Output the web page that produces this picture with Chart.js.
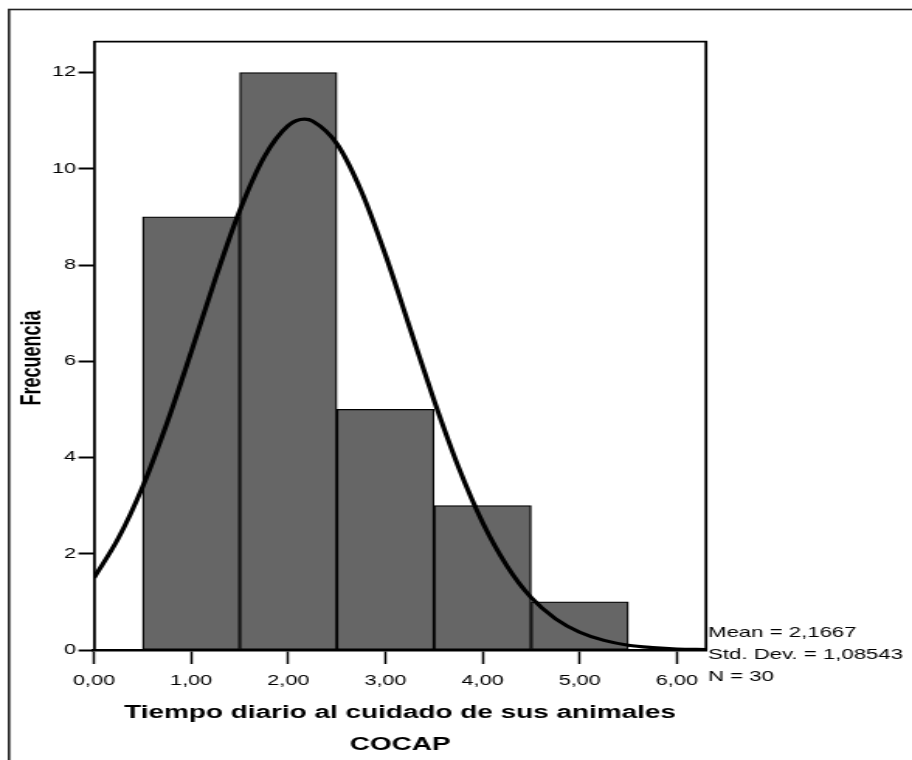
<!DOCTYPE html>
<html>
<head>
<meta charset="utf-8">
<script src="https://cdn.jsdelivr.net/npm/chart.js@4.4.1/dist/chart.umd.min.js"></script>
<style>
  html, body { margin: 0; padding: 0; background: #fff; overflow: hidden; }
  #hist { display: block; }
</style>
</head>
<body>
<!-- the original picture is stretched sideways, so the canvas is drawn narrow and widened by css -->
<canvas id="hist" width="588" height="760" style="width:912px;height:760px"></canvas>
<script>
const binCenters = [1, 2, 3, 4, 5];
const frequencies = [9, 12, 5, 3, 1];

// normal curve
const curveX = [0, 0.25, 0.5, 0.75, 1, 1.25, 1.5, 1.75, 2, 2.1667, 2.25, 2.5, 2.75, 3, 3.25, 3.5, 3.75, 4, 4.25, 4.5, 4.75, 5, 5.25, 5.5, 5.75, 6, 6.3];
const curveY = [1.50, 2.32, 3.39, 4.71, 6.19, 7.72, 9.13, 10.24, 10.90, 11.03, 10.99, 10.52, 9.54, 8.21, 6.70, 5.19, 3.81, 2.65, 1.75, 1.09, 0.65, 0.37, 0.20, 0.10, 0.05, 0.02, 0.01];

const xTickLabels = ['0,00', '1,00', '2,00', '3,00', '4,00', '5,00', '6,00'];
const xAxisTitle = ['Tiempo diario al cuidado de sus animales', 'COCAP'];
const yAxisTitle = 'Frecuencia';
const statsLines = ['Mean = 2,1667', 'Std. Dev. = 1,08543', 'N = 30'];

const SX = 912 / 588;
const FONT = '"Liberation Sans", Arial, Helvetica, sans-serif';

const framePlugin = {
  id: 'frame',
  beforeDraw(chart) {
    const ctx = chart.ctx;
    ctx.save();
    ctx.fillStyle = '#fff';
    ctx.fillRect(0, 0, chart.width, chart.height);
    ctx.strokeStyle = '#222';
    ctx.lineWidth = 1.6;
    ctx.strokeRect(9 / SX, 9.5, 800, 800);
    ctx.restore();
  },
  afterDraw(chart) {
    const ctx = chart.ctx;
    const a = chart.chartArea;
    ctx.save();
    ctx.strokeStyle = '#000';
    ctx.lineWidth = 1.8;
    ctx.beginPath();
    ctx.moveTo(a.left, a.top);
    ctx.lineTo(a.right, a.top);
    ctx.lineTo(a.right, a.bottom);
    ctx.stroke();

    // y axis title
    ctx.fillStyle = '#000';
    ctx.font = 'bold 18px ' + FONT;
    ctx.textAlign = 'center';
    ctx.textBaseline = 'middle';
    ctx.translate(33 / SX, 358);
    ctx.rotate(-Math.PI / 2);
    ctx.fillText(yAxisTitle, 0, 0);
    ctx.restore();

    // stats box
    ctx.save();
    ctx.fillStyle = '#000';
    ctx.font = '14.3px ' + FONT;
    ctx.textAlign = 'left';
    ctx.textBaseline = 'middle';
    statsLines.forEach((s, i) => ctx.fillText(s, 708 / SX, 633 + i * 22));
    ctx.restore();
  }
};

const ctx = document.getElementById('hist');
const histChart = new Chart(ctx, {
  type: 'bar',
  data: {
    datasets: [
      {
        type: 'line',
        data: curveX.map((x, i) => ({ x: x, y: curveY[i] })),
        borderColor: '#000',
        borderWidth: 3.2,
        pointRadius: 0,
        fill: false,
        cubicInterpolationMode: 'monotone',
        order: 0
      },
      {
        type: 'bar',
        data: binCenters.map((x, i) => ({ x: x, y: frequencies[i] })),
        backgroundColor: '#666666',
        borderColor: '#000',
        borderWidth: 1.3,
        borderSkipped: false,
        barPercentage: 1,
        categoryPercentage: 1,
        order: 1
      }
    ]
  },
  options: {
    responsive: false,
    animation: false,
    layout: { padding: { left: 0, right: 588 - 706 / SX, top: 41.7, bottom: 0 } },
    plugins: {
      legend: { display: false },
      tooltip: { enabled: false }
    },
    scales: {
      x: {
        type: 'linear',
        offset: false,
        min: 0,
        max: 6.3,
        afterFit: (scale) => { scale.height = 110; },
        border: { color: '#000', width: 2.5 },
        grid: {
          offset: false,
          drawOnChartArea: false,
          color: '#000',
          tickLength: 14,
          tickWidth: 1.5
        },
        ticks: {
          stepSize: 1,
          includeBounds: false,
          color: '#000',
          padding: 9,
          maxRotation: 0,
          font: { family: FONT, size: 14 },
          callback: (v) => xTickLabels[v] !== undefined ? xTickLabels[v] : ''
        },
        title: {
          display: true,
          text: xAxisTitle,
          color: '#000',
          font: { family: FONT, size: 18, weight: 'bold', lineHeight: '32px' },
          padding: { top: 0, bottom: -1 }
        }
      },
      y: {
        min: 0,
        max: 12.64,
        afterFit: (scale) => { scale.width = 94 / SX; },
        border: { color: '#000', width: 1.8 },
        grid: {
          drawOnChartArea: false,
          color: '#000',
          tickLength: 10,
          tickWidth: 2
        },
        ticks: {
          stepSize: 2,
          includeBounds: false,
          color: '#000',
          padding: 1.5,
          font: { family: FONT, size: 14 }
        }
      }
    }
  },
  plugins: [framePlugin]
});
</script>
</body>
</html>
